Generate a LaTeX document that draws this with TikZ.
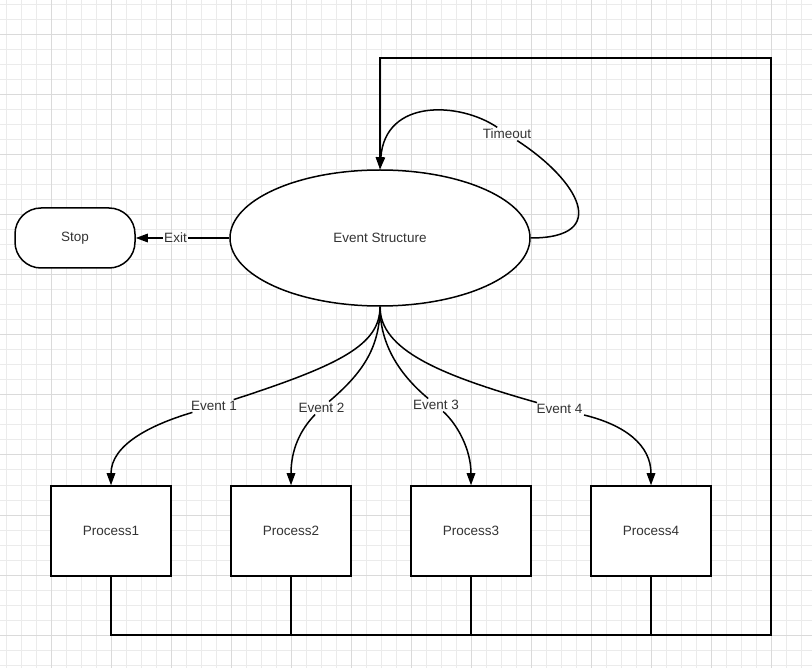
\documentclass[tikz,border=0pt]{standalone}
\usepackage{fontspec}
\setmainfont{Liberation Sans}
\usetikzlibrary{shapes.geometric,arrows.meta}
\definecolor{gridminor}{HTML}{EBEBEB}
\definecolor{gridmajor}{HTML}{DADADA}
\definecolor{txt}{HTML}{333333}
\begin{document}
\begin{tikzpicture}[x=1pt,y=-1pt,
  conn/.style={line width=1.5pt, draw=black},
  arr/.style={conn, -{Triangle[length=12pt,width=8.5pt]}},
  procbox/.style={draw, line width=1.5pt, fill=white, minimum width=120pt, minimum height=90pt, inner sep=0pt, text=txt, font=\fontsize{13.5}{16}\selectfont},
  lbl/.style={text=txt, inner sep=1.5pt, font=\fontsize{13.5}{16}\selectfont}]
\useasboundingbox (0,0) rectangle (812,668);
\fill[white] (0,0) rectangle (812,668);
\foreach \x in {6,21,...,812} \draw[gridminor,line width=1pt] (\x,0) -- (\x,668);
\foreach \y in {5,20,...,668} \draw[gridminor,line width=1pt] (0,\y) -- (812,\y);
\foreach \x in {51,111,...,812} \draw[gridmajor,line width=1pt] (\x,0) -- (\x,668);
\foreach \y in {35,95,...,668} \draw[gridmajor,line width=1pt] (0,\y) -- (812,\y);

% nodes
\node[draw, line width=1.5pt, fill=white, rounded corners=26pt, minimum width=120pt, minimum height=60pt, inner sep=0pt, text=txt, font=\fontsize{13.5}{16}\selectfont] (S) at (75,238) {Stop};
\node[ellipse, draw, fill=white, line width=1.5pt, minimum width=300pt, minimum height=136pt, inner sep=0pt, text=txt, font=\fontsize{13.5}{16}\selectfont] (E) at (380,238) {Event Structure};
\node[procbox] (P1) at (111,531) {Process1};
\node[procbox] (P2) at (291,531) {Process2};
\node[procbox] (P3) at (471,531) {Process3};
\node[procbox] (P4) at (651,531) {Process4};

% labels
\node[lbl] (lx) at (175.5,238) {Exit};
\node[lbl] (lt) at (507,134) {Timeout};
\node[lbl] (l1) at (214,406) {Event 1};
\node[lbl] (l2) at (321.5,408) {Event 2};
\node[lbl] (l3) at (436,405) {Event 3};
\node[lbl] (l4) at (559.5,409) {Event 4};

\coordinate (br) at (771,635);
\coordinate (tr) at (771,58);
\coordinate (tl) at (380,58);

% exit
\draw[conn] (E.west) -- (lx);
\draw[arr] (lx) -- (S.east);

% timeout loop
\draw[conn] (E.east) .. controls (612,238) and (578,180) .. (lt);
\draw[arr] (lt) .. controls (460,102) and (385,98) .. (E.north);

% events
\draw[conn] (E.south) .. controls (380,345) and (340,365) .. (l1);
\draw[arr] (l1) .. controls (150,425) and (111,445) .. (P1.north);
\draw[conn] (E.south) .. controls (380,350) and (360,375) .. (l2);
\draw[arr] (l2) .. controls (300,430) and (291,450) .. (P2.north);
\draw[conn] (E.south) .. controls (380,345) and (400,375) .. (l3);
\draw[arr] (l3) .. controls (458,425) and (471,450) .. (P3.north);
\draw[conn] (E.south) .. controls (380,350) and (440,375) .. (l4);
\draw[arr] (l4) .. controls (625,425) and (651,445) .. (P4.north);

% return loop
\draw[arr] (P1.south) |- (br) -- (tr) -- (tl) -- (E.north);
\draw[conn] (P2.south) -- (P2.south |- br);
\draw[conn] (P3.south) -- (P3.south |- br);
\draw[conn] (P4.south) -- (P4.south |- br);
\end{tikzpicture}
\end{document}
